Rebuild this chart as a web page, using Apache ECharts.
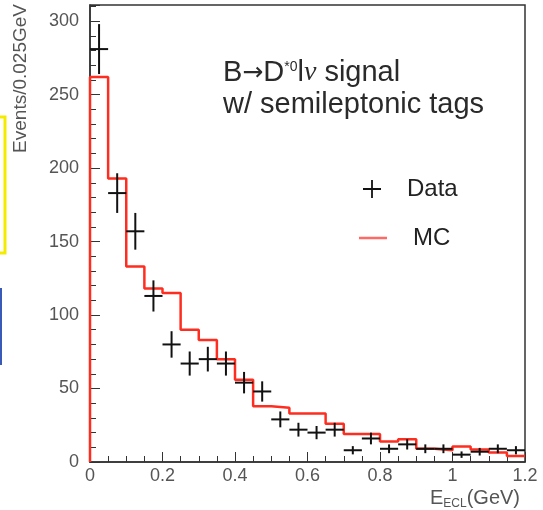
<!DOCTYPE html>
<html>
<head>
<meta charset="utf-8">
<script src="https://cdn.jsdelivr.net/npm/echarts@6/dist/echarts.min.js"></script>
<style>
  html, body { margin: 0; padding: 0; background: #fff; }
  #main { width: 543px; height: 510px; }
</style>
</head>
<body>
<div id="main"></div>
<script>
// bins of 0.05 GeV
var binEdges = [0, 0.05, 0.1, 0.15, 0.2, 0.25, 0.3, 0.35, 0.4, 0.45, 0.5, 0.55, 0.6,
  0.65, 0.7, 0.75, 0.8, 0.85, 0.9, 0.95, 1.0, 1.05, 1.1, 1.15, 1.2];
var binCenters = [0.025, 0.075, 0.125, 0.175, 0.225, 0.275, 0.325, 0.375, 0.425, 0.475,
  0.525, 0.575, 0.625, 0.675, 0.725, 0.775, 0.825, 0.875, 0.925, 0.975, 1.025, 1.075, 1.125, 1.175];
var binHalf = 0.025;

// measured events
var dataCounts = [281, 183, 157, 113, 80, 67, 70, 67, 54, 48, 29, 22, 20, 22, 8, 16, 9, 12, 9, 9, 5, 7, 9, 8];
var dataErrors = [17, 13.5, 12.5, 10.6, 9, 8.2, 8.4, 8.2, 7.3, 6.9, 5.4, 4.7, 4.5, 4.7, 2.8, 4, 3, 3.5, 3, 3, 2.2, 2.6, 3, 2.8];
// MC histogram, one value per bin
var mcCounts = [262, 193, 133, 118, 115, 90, 83, 70, 56, 38, 37, 33, 33, 26, 19, 19, 14, 15.5, 9, 8, 10.5, 8.5, 6.5, 4];

var yTickLabels = [0, 50, 100, 150, 200, 250, 300];

var myChart = echarts.init(document.getElementById('main'));

// histogram outline: start at (0,0), then left edge of each bin, close at the last edge
var mcLine = [[binEdges[0], 0]];
mcCounts.forEach(function (v, i) {
  mcLine.push([binEdges[i], v]);
});
mcLine.push([binEdges[binEdges.length - 1], mcCounts[mcCounts.length - 1]]);

var dataPoints = [];
dataCounts.forEach(function (v, i) {
  dataPoints.push([binCenters[i], v, dataErrors[i]]);
});

var plusIcon = 'path://M9,0h2v9h9v2h-9v9h-2v-9h-9v-2h9z';
var txt = '#555';
var font = 'Liberation Sans';

var option = {
  animation: false,
  backgroundColor: '#fff',
  title: {
    text: '{t|B}{ar|→}{t|D}{sup|*0}{t|l}{nu|ν}{t| signal}\n{t|w/ semileptonic tags}',
    left: 223,
    top: 57,
    padding: 0,
    textStyle: {
      fontWeight: 'normal',
      rich: {
        t: { fontSize: 29, fontFamily: font, fontWeight: 'normal', color: '#2a2a2a', lineHeight: 32 },
        ar: { fontSize: 25, fontFamily: 'DejaVu Sans', fontWeight: 'normal', color: '#2a2a2a', lineHeight: 32 },
        sup: { fontSize: 14, fontFamily: font, fontWeight: 'normal', color: '#2a2a2a', verticalAlign: 'top', padding: [3, 0, 0, 0] },
        nu: { fontSize: 28, fontFamily: 'Liberation Serif', fontStyle: 'italic', fontWeight: 'normal', color: '#2a2a2a', lineHeight: 32 }
      }
    }
  },
  legend: [
    {
      data: [{ name: 'Data', icon: plusIcon }],
      left: 363,
      top: 177,
      padding: 0,
      itemWidth: 20,
      itemHeight: 18,
      selectedMode: false,
      textStyle: { fontSize: 24, color: '#222', fontFamily: font, padding: [0, 0, 0, 20] }
    },
    {
      data: [{ name: 'MC', icon: 'rect', itemStyle: { color: '#ff6a64' } }],
      left: 359,
      top: 226,
      padding: 0,
      itemWidth: 28,
      itemHeight: 2.5,
      selectedMode: false,
      textStyle: { fontSize: 24, color: '#222', fontFamily: font, padding: [0, 0, 0, 21] }
    }
  ],
  grid: {
    left: 90,
    right: 18,
    top: 5,
    bottom: 45,
    show: true,
    borderColor: '#333',
    borderWidth: 1.5
  },
  xAxis: {
    type: 'value',
    min: 0,
    max: 1.2,
    interval: 0.2,
    axisLine: { lineStyle: { color: '#333', width: 1.5 } },
    axisTick: { inside: true, length: 10, lineStyle: { color: '#333' } },
    minorTick: { show: true, splitNumber: 4, length: 6, lineStyle: { color: '#333' } },
    splitLine: { show: false },
    axisLabel: { margin: 5, fontSize: 18, color: txt, fontFamily: font },
    name: '{e|E}{sub|ECL}{e|(GeV)}',
    nameLocation: 'end',
    nameGap: -95,
    nameTextStyle: {
      align: 'left',
      verticalAlign: 'top',
      padding: [24, 0, 0, 0],
      rich: {
        e: { fontSize: 20, color: txt, fontFamily: font, lineHeight: 24 },
        sub: { fontSize: 12, color: txt, fontFamily: font, verticalAlign: 'bottom', lineHeight: 14 }
      }
    }
  },
  yAxis: {
    type: 'value',
    min: 0,
    max: 311,
    interval: 50,
    axisLine: { show: true, lineStyle: { color: '#333', width: 1.5 } },
    axisTick: { show: true, inside: true, length: 10, lineStyle: { color: '#333' } },
    minorTick: { show: true, splitNumber: 5, length: 6, lineStyle: { color: '#333' } },
    splitLine: { show: false },
    axisLabel: {
      margin: 11,
      fontSize: 18,
      color: txt,
      fontFamily: font,
      formatter: function (v) {
        return yTickLabels.indexOf(v) >= 0 ? String(v) : '';
      }
    }
  },
  graphic: [
    {
      type: 'text',
      x: 11,
      y: 4,
      rotation: Math.PI / 2,
      style: {
        text: 'Events/0.025GeV',
        fill: txt,
        font: '19px "Liberation Sans"',
        align: 'right',
        verticalAlign: 'top'
      }
    },
    {
      type: 'polyline',
      shape: { points: [[0, 117], [5, 117], [5, 253], [0, 253]] },
      style: { stroke: '#f3ec00', lineWidth: 3, fill: null }
    },
    {
      type: 'line',
      shape: { x1: 1, y1: 288, x2: 1, y2: 365 },
      style: { stroke: '#3a5ab8', lineWidth: 2 }
    }
  ],
  series: [
    {
      name: 'MC',
      type: 'line',
      step: 'end',
      symbol: 'none',
      data: mcLine,
      lineStyle: { color: '#ff2d1f', width: 2.5 },
      itemStyle: { color: '#ff2d1f' },
      z: 2
    },
    {
      name: 'Data',
      type: 'custom',
      data: dataPoints,
      encode: { x: 0, y: 1 },
      itemStyle: { color: '#111' },
      z: 3,
      renderItem: function (params, api) {
        var x = api.value(0);
        var y = api.value(1);
        var e = api.value(2);
        var top = api.coord([x, y + e]);
        var bottom = api.coord([x, y - e]);
        var left = api.coord([x - binHalf, y]);
        var right = api.coord([x + binHalf, y]);
        var st = { stroke: '#111', lineWidth: 2 };
        return {
          type: 'group',
          children: [
            { type: 'line', shape: { x1: top[0], y1: top[1], x2: bottom[0], y2: bottom[1] }, style: st },
            { type: 'line', shape: { x1: left[0], y1: left[1], x2: right[0], y2: right[1] }, style: st }
          ]
        };
      }
    }
  ]
};

myChart.setOption(option);
</script>
</body>
</html>
